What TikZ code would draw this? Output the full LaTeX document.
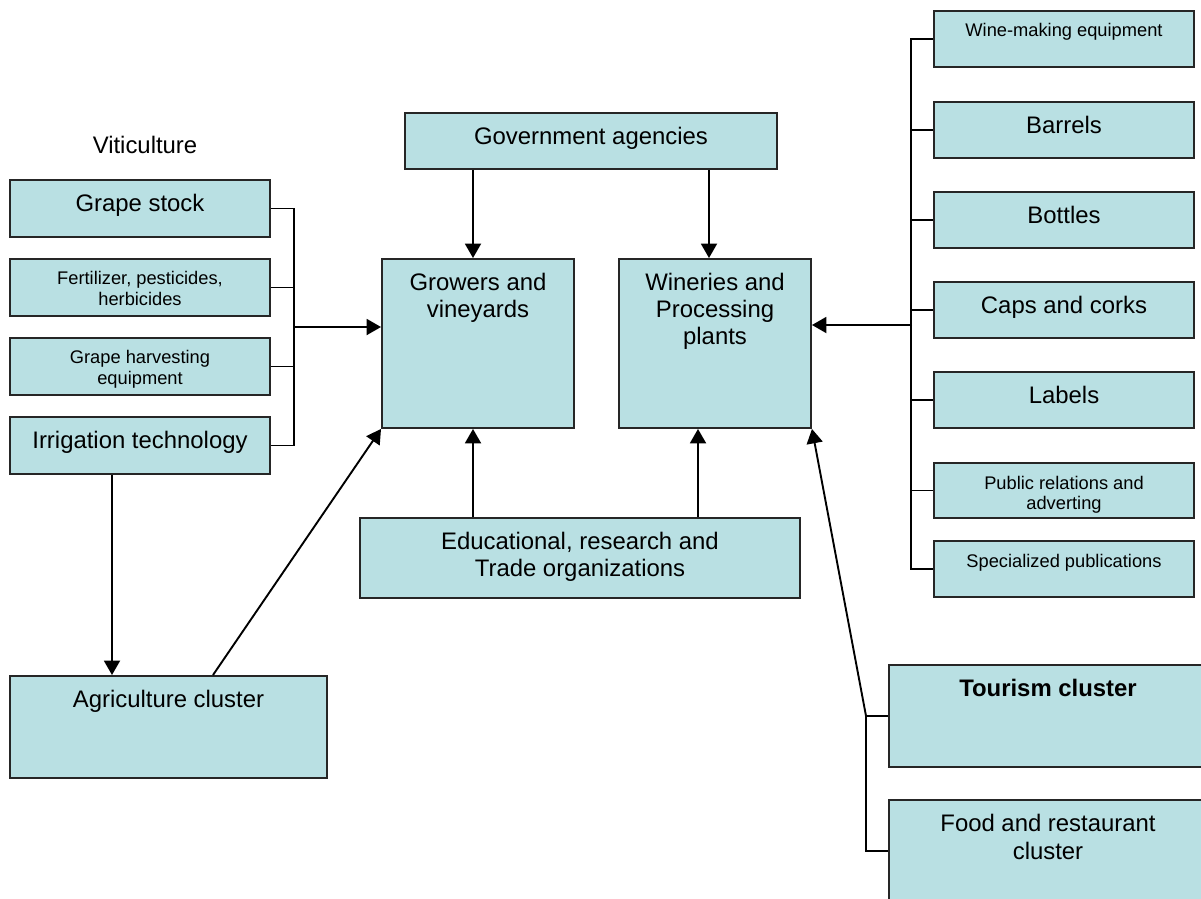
\documentclass[tikz,border=0pt]{standalone}
\usepackage{fontspec}
\setmainfont{Liberation Sans}
\usetikzlibrary{positioning,arrows.meta,calc}
\definecolor{boxfill}{RGB}{185,224,227}

\begin{document}
\begin{tikzpicture}[
  box/.style={rectangle, draw=black!85, line width=1.4pt, fill=boxfill, align=center, inner xsep=2pt, inner ysep=0pt, anchor=north},
  bigbox/.style={box, font=\fontsize{17}{19.2}\selectfont, text height=22.5pt},
  smallbox/.style={box, font=\fontsize{13}{14.8}\selectfont, text height=18.5pt},
  arrow/.style={-{Triangle[length=3.6mm, width=4mm]}, line width=1.35pt},
  link/.style={line width=1.35pt},
]
\useasboundingbox (0,0) rectangle (30.025,-22.45);

% === Viticulture suppliers ===
\node[font=\fontsize{17}{19.2}\selectfont] (vitic) at (3.625,-3.625) {Viticulture};
\node[bigbox, minimum width=6.5cm, text depth=18pt] (grape) at (3.5,-4.475) {Grape stock};
\node[smallbox, minimum width=6.5cm, text height=33.3pt, text depth=7.2pt] (fert) at (3.5,-6.45) {Fertilizer, pesticides,\\herbicides};
\node[smallbox, minimum width=6.5cm, text height=33.3pt, text depth=7.2pt] (harv) at (3.5,-8.425) {Grape harvesting\\equipment};
\node[bigbox, minimum width=6.5cm, text depth=18pt] (irrig) at (3.5,-10.4) {Irrigation technology};

% === Core ===
\node[bigbox, minimum width=9.3cm, text depth=17.3pt] (gov) at (14.775,-2.8) {Government agencies};
\node[bigbox, minimum width=4.8cm, text height=41.7pt, text depth=78.5pt] (grow) at (11.95,-6.45) {Growers and\\vineyards};
\node[bigbox, minimum width=4.8cm, text height=60.9pt, text depth=59.3pt] (winer) at (17.875,-6.45) {Wineries and\\Processing\\plants};
\node[bigbox, minimum width=11cm, text height=41.7pt, text depth=15.2pt] (edu) at (14.5,-12.925) {Educational, research and\\Trade organizations};
\node[bigbox, minimum width=7.925cm, text depth=50.1pt] (agri) at (4.2125,-16.875) {Agriculture cluster};

% === Winery suppliers ===
\node[smallbox, minimum width=6.5cm, text depth=21.3pt] (wmeq) at (26.6,-0.25) {Wine-making equipment};
\node[bigbox, minimum width=6.5cm, text depth=17.3pt] (barr) at (26.6,-2.525) {Barrels};
\node[bigbox, minimum width=6.5cm, text depth=17.3pt] (bott) at (26.6,-4.775) {Bottles};
\node[bigbox, minimum width=6.5cm, text depth=17.3pt] (caps) at (26.6,-7.025) {Caps and corks};
\node[bigbox, minimum width=6.5cm, text depth=17.3pt] (labl) at (26.6,-9.275) {Labels};
\node[smallbox, minimum width=6.5cm, text height=33.3pt, text depth=5.8pt] (publ) at (26.6,-11.55) {Public relations and\\adverting};
\node[smallbox, minimum width=6.5cm, text depth=21.3pt] (spec) at (26.6,-13.5) {Specialized publications};

% === Related clusters ===
\node[bigbox, minimum width=7.95cm, text depth=50.1pt, font=\fontsize{17}{19.2}\selectfont\bfseries] (tour) at (26.2,-16.6) {Tourism cluster};
\node[bigbox, minimum width=7.95cm, text height=42.2pt, text depth=30.4pt, font=\fontsize{17}{19.8}\selectfont] (food) at (26.2,-19.975) {Food and restaurant\\cluster};

% === Left supply bus ===
\coordinate (lbus) at ([xshift=0.575cm]grape.east);
\coordinate (ljoin) at (7.325,-8.175);
\draw[link] (grape.east) -- (lbus) |- (irrig.east);
\draw[link] (fert.east) -- (fert.east -| lbus);
\draw[link] (harv.east) -- (harv.east -| lbus);
\draw[arrow] (ljoin) -- (ljoin -| grow.west);

% === Government and education ===
\draw[arrow] ($(gov.south -| grow.north)+(-0.125,0)$) -- ($(grow.north)+(-0.125,0)$);
\draw[arrow] ($(gov.south -| winer.north)+(-0.15,0)$) -- ($(winer.north)+(-0.15,0)$);
\draw[arrow] ($(edu.north -| grow.south)+(-0.125,0)$) -- ($(grow.south)+(-0.125,0)$);
\draw[arrow] ($(edu.north -| winer.south)+(-0.425,0)$) -- ($(winer.south)+(-0.425,0)$);

% === Agriculture cluster ===
\draw[arrow] ($(irrig.south)+(-0.7,0)$) -- ($(agri.north -| irrig.south)+(-0.7,0)$);
\draw[arrow] ($(agri.north)+(1.1125,0)$) -- (grow.south west);

% === Right supply bus ===
\coordinate (rbus) at ([xshift=-0.55cm]wmeq.west);
\coordinate (rjoin) at (22.8,-8.125);
\draw[link] (wmeq.west) -- (rbus) |- (spec.west);
\draw[link] (barr.west) -- (barr.west -| rbus);
\draw[link] (bott.west) -- (bott.west -| rbus);
\draw[link] (caps.west) -- (caps.west -| rbus);
\draw[link] (labl.west) -- (labl.west -| rbus);
\draw[link] (publ.west) -- (publ.west -| rbus);
\draw[arrow] (rjoin) -- (rjoin -| winer.east);

% === Tourism and food ===
\coordinate (tbus) at ([xshift=-0.55cm]tour.west);
\draw[link] (tour.west) -- (tbus) |- (food.west);
\draw[arrow] (tbus) -- (winer.south east);

\end{tikzpicture}
\end{document}
